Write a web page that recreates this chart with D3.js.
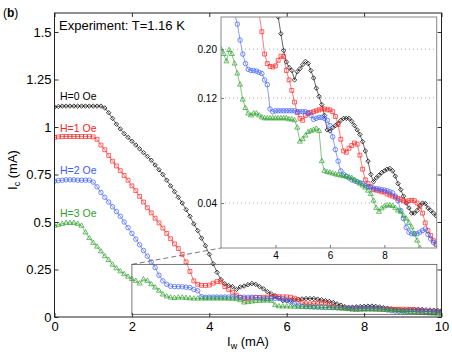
<!DOCTYPE html>
<html lang="en">
<head>
<meta charset="UTF-8">
<title>Ic vs Iw, T=1.16 K</title>
<script src="https://d3js.org/d3.v7.min.js"></script>
<style>
  * { margin: 0; padding: 0; }
  body { background: #fff; }
  svg { display: block; font-family: "Liberation Sans", Arial, sans-serif; }
</style>
</head>
<body>
<div id="chart"></div>
<script>
// write current I_w (mA)
const iw = [0,0.1,0.2,0.3,0.4,0.5,0.6,0.7,0.8,0.9,1,1.1,1.2,1.3,1.4,1.5,1.6,1.7,1.8,1.9,
  2,2.1,2.2,2.3,2.4,2.5,2.6,2.7,2.8,2.9,3,3.1,3.2,3.3,3.4,3.5,3.6,3.7,3.8,3.9,
  4,4.1,4.2,4.3,4.4,4.5,4.6,4.7,4.8,4.9,5,5.1,5.2,5.3,5.4,5.5,5.6,5.7,5.8,5.9,
  6,6.1,6.2,6.3,6.4,6.5,6.6,6.7,6.8,6.9,7,7.1,7.2,7.3,7.4,7.5,7.6,7.7,7.8,7.9,
  8,8.1,8.2,8.3,8.4,8.5,8.6,8.7,8.8,8.9,9,9.1,9.2,9.3,9.4,9.5,9.6,9.7,9.8,9.9,10];

// critical current I_c (mA) for each field
const ic0 = [1.105,1.108,1.11,1.11,1.11,1.11,1.11,1.11,1.11,1.11,1.11,1.11,1.11,1.10,1.075,1.045,1.015,0.99,0.965,0.945,
  0.925,0.905,0.885,0.865,0.845,0.825,0.80,0.775,0.75,0.72,0.69,0.66,0.63,0.60,0.565,0.53,0.49,0.455,0.415,0.375,
  0.33,0.28,0.235,0.197,0.175,0.165,0.16,0.145,0.158,0.163,0.17,0.176,0.172,0.16,0.148,0.133,0.122,0.112,0.100,0.086,
  0.085,0.088,0.090,0.092,0.095,0.097,0.097,0.097,0.094,0.09,0.086,0.082,0.076,0.069,0.062,0.054,0.050,0.052,0.0535,0.055,
  0.056,0.057,0.0574,0.056,0.053,0.049,0.046,0.043,0.040,0.038,0.036,0.036,0.037,0.039,0.040,0.0398,0.038,0.037,0.036,0.035,0.034];
const ic1 = [0.945,0.948,0.95,0.95,0.95,0.95,0.95,0.95,0.95,0.95,0.948,0.935,0.905,0.88,0.85,0.82,0.795,0.77,0.745,0.72,
  0.69,0.665,0.635,0.605,0.575,0.548,0.52,0.495,0.468,0.44,0.412,0.385,0.36,0.33,0.29,0.24,0.19,0.172,0.167,0.166,
  0.168,0.178,0.186,0.185,0.16,0.145,0.13,0.115,0.103,0.097,0.095,0.1,0.102,0.103,0.104,0.105,0.106,0.107,0.107,0.106,
  0.106,0.104,0.099,0.091,0.078,0.069,0.068,0.071,0.073,0.075,0.074,0.066,0.057,0.051,0.049,0.0475,0.046,0.0458,0.0455,0.045,
  0.0449,0.044,0.0435,0.043,0.0425,0.042,0.0415,0.041,0.0405,0.041,0.0412,0.041,0.040,0.0385,0.036,0.0325,0.030,0.0285,0.027,0.026,0.025];
const ic2 = [0.715,0.718,0.72,0.722,0.722,0.722,0.72,0.72,0.72,0.72,0.71,0.685,0.655,0.63,0.605,0.58,0.555,0.53,0.50,0.47,
  0.44,0.41,0.38,0.35,0.32,0.29,0.26,0.22,0.19,0.172,0.162,0.16,0.16,0.159,0.157,0.155,0.145,0.138,0.107,0.104,
  0.105,0.105,0.105,0.105,0.105,0.105,0.105,0.105,0.104,0.104,0.104,0.104,0.103,0.1,0.096,0.097,0.098,0.098,0.097,0.095,
  0.09,0.08,0.07,0.062,0.056,0.054,0.053,0.052,0.051,0.0505,0.05,0.0495,0.049,0.048,0.0475,0.047,0.0467,0.0465,0.0463,0.046,
  0.0458,0.0455,0.045,0.0445,0.043,0.041,0.037,0.034,0.031,0.0295,0.029,0.029,0.029,0.0295,0.030,0.0305,0.0288,0.0275,0.0265,0.026,0.025];
const ic3 = [0.48,0.485,0.49,0.495,0.495,0.495,0.49,0.48,0.445,0.415,0.39,0.37,0.345,0.32,0.30,0.275,0.256,0.24,0.225,0.212,
  0.20,0.19,0.176,0.198,0.19,0.172,0.155,0.138,0.118,0.108,0.102,0.1,0.102,0.102,0.1,0.098,0.097,0.097,0.097,0.097,
  0.097,0.097,0.097,0.097,0.097,0.096,0.096,0.095,0.088,0.076,0.078,0.081,0.084,0.085,0.086,0.087,0.085,0.062,0.056,0.0553,
  0.055,0.0545,0.054,0.0537,0.0533,0.053,0.0527,0.0523,0.052,0.051,0.050,0.049,0.048,0.047,0.0455,0.044,0.041,0.038,0.0365,0.0378,
  0.0386,0.039,0.039,0.0388,0.038,0.037,0.0365,0.035,0.034,0.0325,0.031,0.029,0.027,0.025,0.023,0.021,0.02,0.019,0.018,0.017,0.016];

const fieldLabels = ["H=0 Oe", "H=1 Oe", "H=2 Oe", "H=3 Oe"];
const colors = ["#000000", "#ff2222", "#3a5cff", "#2ca02c"];
const xTicks = [0, 2, 4, 6, 8, 10];
const yTicks = [0, 0.25, 0.5, 0.75, 1, 1.25, 1.5];
const yTickLabels = ["0", "0.25", "0.5", "0.75", "1", "1.25", "1.5"];
const insetXTicks = [4, 6, 8];
const insetYTicks = [0.04, 0.12, 0.20];
const insetYTickLabels = ["0.04", "0.12", "0.20"];
const insetXDomain = [2, 9.92];
const insetYDomain = [0.025, 0.28];
const boxX = [2, 9.88];
const boxY = [0.014, 0.277];

const series = [ic0, ic1, ic2, ic3].map((vals, i) => ({
  label: fieldLabels[i],
  color: colors[i],
  points: iw.map((x, j) => ({ x: x, y: vals[j] }))
}));

const W = 452, H = 357;
const svg = d3.select("#chart").append("svg").attr("width", W).attr("height", H);

const x = d3.scaleLinear().domain([0, 10]).range([54.5, 441.5]);
const y = d3.scaleLinear().domain([0, 1.6]).range([317, 13]);

const xi = d3.scaleLinear().domain(insetXDomain).range([221, 436.7]);
const yi = d3.scaleLog().domain(insetYDomain).range([248, 17]);

// markers: diamond, square, circle, triangle
function marker(sel, i) {
  if (i === 0) {
    sel.attr("d", d3.symbol().type(d3.symbolSquare).size(10)())
       .attr("transform", d => d.t + " rotate(45)");
  } else if (i === 1) {
    sel.attr("d", d3.symbol().type(d3.symbolSquare).size(15)()).attr("transform", d => d.t);
  } else if (i === 2) {
    sel.attr("d", d3.symbol().type(d3.symbolCircle).size(16)()).attr("transform", d => d.t);
  } else {
    sel.attr("d", d3.symbol().type(d3.symbolTriangle).size(11)()).attr("transform", d => d.t);
  }
}

function drawSeries(g, xs, ys) {
  series.forEach((s, i) => {
    const line = d3.line().x(d => xs(d.x)).y(d => ys(d.y));
    g.append("path").datum(s.points)
      .attr("d", line)
      .attr("fill", "none")
      .attr("stroke", s.color)
      .attr("stroke-width", 0.6);
    g.append("g").selectAll("path")
      .data(s.points.map(p => ({ t: `translate(${xs(p.x)},${ys(p.y)})` })))
      .join("path")
      .call(marker, i)
      .attr("fill", "none")
      .attr("stroke", s.color)
      .attr("stroke-width", 0.7);
  });
}

// ---- main axes ----
svg.append("defs").append("clipPath").attr("id", "mainclip")
  .append("rect").attr("x", x(0)).attr("y", y(1.6)).attr("width", x(10) - x(0)).attr("height", y(0) - y(1.6));

const main = svg.append("g").attr("clip-path", "url(#mainclip)");
drawSeries(main, x, y);

// zoom box
svg.append("rect")
  .attr("x", x(boxX[0])).attr("y", y(boxY[1]))
  .attr("width", x(boxX[1]) - x(boxX[0])).attr("height", y(boxY[0]) - y(boxY[1]))
  .attr("fill", "none").attr("stroke", "#555").attr("stroke-width", 0.8);
svg.append("line")
  .attr("x1", x(boxX[0])).attr("y1", y(boxY[1]))
  .attr("x2", xi.range()[0]).attr("y2", yi.range()[0])
  .attr("stroke", "#555").attr("stroke-width", 0.8).attr("stroke-dasharray", "5,3");

// axes with inward ticks
const axisStyle = g => {
  g.select(".domain").remove();
  g.selectAll(".tick line").attr("stroke", "#333");
  g.selectAll(".tick text").attr("fill", "#000").attr("font-size", 13)
    .attr("font-family", "Liberation Sans, Arial, sans-serif");
};
svg.append("g").attr("transform", `translate(0,${y(0)})`)
  .call(d3.axisBottom(x).tickValues(xTicks).tickFormat(d3.format("d")).tickSizeInner(-4).tickPadding(5))
  .call(axisStyle);
svg.append("g").attr("transform", `translate(0,${y(1.6)})`)
  .call(d3.axisTop(x).tickValues(xTicks).tickFormat("").tickSizeInner(-4))
  .call(axisStyle);
svg.append("g").attr("transform", `translate(${x(0)},0)`)
  .call(d3.axisLeft(y).tickValues(yTicks).tickFormat((d, i) => yTickLabels[i]).tickSizeInner(-4).tickPadding(3))
  .call(axisStyle);
svg.append("g").attr("transform", `translate(${x(10)},0)`)
  .call(d3.axisRight(y).tickValues(yTicks).tickFormat("").tickSizeInner(-4))
  .call(axisStyle);

svg.append("rect")
  .attr("x", x(0)).attr("y", y(1.6))
  .attr("width", x(10) - x(0)).attr("height", y(0) - y(1.6))
  .attr("fill", "none").attr("stroke", "#222").attr("stroke-width", 1);

// ---- inset ----
const inset = svg.append("g");
inset.append("rect")
  .attr("x", xi.range()[0]).attr("y", yi.range()[1])
  .attr("width", xi.range()[1] - xi.range()[0]).attr("height", yi.range()[0] - yi.range()[1])
  .attr("fill", "#fff");

inset.append("g").selectAll("line")
  .data(insetYTicks)
  .join("line")
  .attr("x1", xi.range()[0]).attr("x2", xi.range()[1])
  .attr("y1", d => yi(d)).attr("y2", d => yi(d))
  .attr("stroke", "#999").attr("stroke-width", 0.8).attr("stroke-dasharray", "1,3");

svg.append("defs").append("clipPath").attr("id", "insetclip")
  .append("rect")
  .attr("x", xi.range()[0]).attr("y", yi.range()[1])
  .attr("width", xi.range()[1] - xi.range()[0]).attr("height", yi.range()[0] - yi.range()[1]);

const insetData = inset.append("g").attr("clip-path", "url(#insetclip)");
drawSeries(insetData, xi, yi);

const insetAxisStyle = g => {
  g.select(".domain").remove();
  g.selectAll(".tick line").attr("stroke", "#777");
  g.selectAll(".tick text").attr("fill", "#000").attr("font-size", 10)
    .attr("font-family", "Liberation Sans, Arial, sans-serif");
};
inset.append("g").attr("transform", `translate(0,${yi.range()[0]})`)
  .call(d3.axisBottom(xi).tickValues(insetXTicks).tickFormat(d3.format("d")).tickSizeInner(-3).tickPadding(4))
  .call(insetAxisStyle);
inset.append("g").attr("transform", `translate(${xi.range()[0]},0)`)
  .call(d3.axisLeft(yi).tickValues(insetYTicks).tickFormat((d, i) => insetYTickLabels[i]).tickSizeInner(-3).tickPadding(4))
  .call(insetAxisStyle);

inset.append("rect")
  .attr("x", xi.range()[0]).attr("y", yi.range()[1])
  .attr("width", xi.range()[1] - xi.range()[0]).attr("height", yi.range()[0] - yi.range()[1])
  .attr("fill", "none").attr("stroke", "#888").attr("stroke-width", 1);

// ---- texts ----
const lbl = svg.append("text").attr("x", 3).attr("y", 17).attr("font-size", 12);
lbl.append("tspan").text("(");
lbl.append("tspan").attr("font-weight", "bold").text("b");
lbl.append("tspan").text(")");

svg.append("text").attr("x", 59).attr("y", 30).attr("font-size", 13)
  .text("Experiment: T=1.16 K");

const labelY = [100, 131.5, 174, 216.5];
series.forEach((s, i) => {
  svg.append("text").attr("x", 60).attr("y", labelY[i])
    .attr("font-size", 10.5).attr("fill", s.color).text(s.label);
});

const yl = svg.append("text")
  .attr("transform", "translate(17,170) rotate(-90)")
  .attr("text-anchor", "middle").attr("font-size", 13);
yl.append("tspan").text("I");
yl.append("tspan").attr("font-size", 9).attr("dy", 3).text("c");
yl.append("tspan").attr("dy", -3).text(" (mA)");

const xl = svg.append("text").attr("x", 227).attr("y", 346).attr("font-size", 13);
xl.append("tspan").text("I");
xl.append("tspan").attr("font-size", 9).attr("dy", 3).text("w");
xl.append("tspan").attr("dy", -3).text(" (mA)");
</script>
</body>
</html>
